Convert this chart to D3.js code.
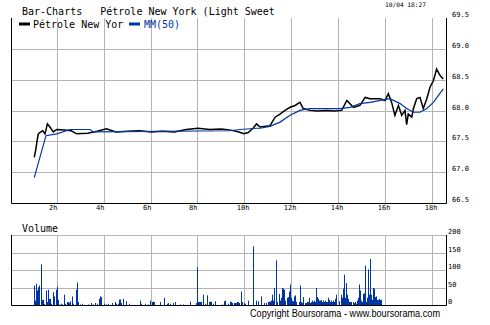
<!DOCTYPE html>
<html>
<head>
<meta charset="utf-8">
<script src="https://cdn.jsdelivr.net/npm/d3@7"></script>
<style>
  html, body { margin: 0; padding: 0; background: #fff; }
  svg { display: block; }
  .mono { font-family: 'DejaVu Sans Mono', monospace; }
</style>
</head>
<body>
<svg id="chart" width="490" height="325"></svg>
<script>
// Pétrole New York intraday chart (Boursorama style)

const hourTicks = [2, 4, 6, 8, 10, 12, 14, 16, 18];
const priceTicks = [66.5, 67.0, 67.5, 68.0, 68.5, 69.0, 69.5];
const volumeTicks = [0, 50, 100, 150, 200];

// [hour, price]
const price = [
    [1.02, 67.25], [1.08, 67.36], [1.13, 67.49], [1.19, 67.63], [1.30, 67.66], [1.38, 67.68],
    [1.48, 67.63], [1.58, 67.79], [1.69, 67.74], [1.83, 67.66], [1.98, 67.70], [2.30, 67.69],
    [2.60, 67.68], [2.83, 67.63], [3.30, 67.64], [3.70, 67.67], [4.10, 67.71], [4.50, 67.66],
    [5.00, 67.67], [5.50, 67.68], [6.00, 67.66], [6.50, 67.67], [7.00, 67.66], [7.50, 67.70],
    [8.00, 67.72], [8.50, 67.70], [9.00, 67.71], [9.40, 67.69], [9.75, 67.66], [9.95, 67.63],
    [10.15, 67.65], [10.35, 67.72], [10.50, 67.79], [10.65, 67.74], [11.07, 67.76], [11.29, 67.90],
    [11.50, 67.95], [11.71, 68.01], [11.93, 68.06], [12.14, 68.09], [12.35, 68.14], [12.49, 68.04],
    [12.78, 68.01], [13.10, 68.00], [13.49, 68.01], [13.80, 68.00], [14.13, 68.01], [14.35, 68.17],
    [14.63, 68.06], [14.91, 68.09], [15.13, 68.22], [15.34, 68.20], [15.77, 68.20], [15.98, 68.17],
    [16.12, 68.28], [16.26, 68.14], [16.40, 67.93], [16.55, 68.09], [16.69, 67.93], [16.83, 68.01],
    [16.90, 67.78], [16.97, 67.95], [17.12, 67.90], [17.19, 68.04], [17.33, 68.20], [17.47, 68.22],
    [17.61, 68.04], [17.76, 68.20], [17.90, 68.39], [18.04, 68.49], [18.18, 68.68], [18.32, 68.58],
    [18.46, 68.52]
];

// [hour, moving average 50]
const mm50 = [
    [1.02, 66.92], [1.52, 67.60], [1.98, 67.63], [2.55, 67.70], [3.40, 67.70], [3.54, 67.66],
    [9.37, 67.68], [9.79, 67.70], [10.51, 67.72], [10.65, 67.72], [11.07, 67.75], [11.50, 67.82],
    [11.93, 67.93], [12.35, 68.01], [12.78, 68.04], [14.06, 68.04], [14.49, 68.06], [14.91, 68.12],
    [15.34, 68.14], [16.19, 68.20], [16.62, 68.12], [16.90, 68.04], [17.19, 67.98], [17.47, 67.98],
    [17.76, 68.04], [18.04, 68.14], [18.46, 68.36]
];

// [hour, volume]
const volume = [
    [1.02, 57], [1.07, 14], [1.11, 62], [1.15, 43], [1.20, 52], [1.24, 57], [1.32, 117], [1.37, 16],
    [1.41, 16], [1.45, 5], [1.54, 43], [1.58, 10], [1.62, 45], [1.66, 19], [1.71, 19], [1.75, 5],
    [1.83, 38], [1.88, 26], [1.96, 45], [2.00, 54], [2.05, 16], [2.09, 3], [2.18, 5], [2.22, 3],
    [2.30, 31], [2.35, 5], [2.43, 10], [2.47, 10], [2.52, 7], [2.56, 12], [2.64, 26], [2.69, 5],
    [2.82, 45], [2.86, 66], [2.90, 10], [2.99, 3], [3.07, 5], [3.33, 3], [3.45, 7], [3.54, 3],
    [3.62, 7], [3.71, 5], [3.80, 19], [3.84, 26], [3.88, 24], [4.01, 5], [4.09, 3], [4.18, 5],
    [4.35, 7], [4.48, 10], [4.52, 5], [4.60, 5], [4.65, 17], [4.69, 17], [4.73, 7], [4.82, 19],
    [4.95, 12], [5.07, 5], [5.54, 14], [5.59, 5], [5.76, 5], [5.88, 3], [5.97, 14], [6.05, 10],
    [6.10, 11], [6.14, 10], [6.40, 10], [6.57, 22], [6.69, 5], [6.74, 7], [6.82, 5], [6.95, 7],
    [7.04, 10], [7.25, 3], [7.38, 3], [7.67, 11], [7.93, 7], [7.97, 109], [8.02, 10], [8.06, 10],
    [8.10, 10], [8.14, 10], [8.23, 31], [8.31, 5], [8.40, 29], [8.48, 10], [8.53, 11], [8.57, 11],
    [8.65, 5], [8.74, 12], [9.04, 3], [9.12, 12], [9.17, 14], [9.29, 5], [9.38, 11], [9.42, 10],
    [9.46, 7], [9.55, 7], [9.59, 7], [9.64, 7], [9.68, 10], [9.72, 10], [9.76, 7], [9.85, 40],
    [9.89, 10], [9.98, 7], [10.02, 5], [10.15, 14], [10.36, 169], [10.49, 14], [10.57, 12],
    [10.70, 26], [10.83, 7], [10.91, 7], [11.00, 10], [11.04, 11], [11.08, 11], [11.13, 14],
    [11.17, 31], [11.21, 14], [11.25, 50], [11.34, 129], [11.38, 10], [11.47, 33], [11.51, 14],
    [11.55, 22], [11.60, 50], [11.64, 48], [11.68, 45], [11.72, 14], [11.81, 22], [11.85, 24],
    [11.89, 40], [11.94, 60], [11.98, 22], [12.02, 14], [12.06, 12], [12.11, 26], [12.15, 29],
    [12.19, 10], [12.32, 10], [12.36, 57], [12.40, 10], [12.45, 7], [12.49, 24], [12.58, 7],
    [12.62, 7], [12.66, 10], [12.70, 10], [12.75, 22], [12.79, 7], [12.83, 10], [12.87, 14],
    [12.92, 10], [12.96, 14], [13.00, 10], [13.05, 50], [13.09, 24], [13.13, 19], [13.17, 14],
    [13.22, 14], [13.26, 16], [13.30, 10], [13.34, 14], [13.39, 10], [13.43, 14], [13.47, 10],
    [13.51, 10], [13.56, 22], [13.60, 16], [13.64, 10], [13.68, 14], [13.73, 10], [13.77, 14],
    [13.81, 10], [13.85, 19], [13.90, 31], [14.03, 12], [14.11, 31], [14.15, 22], [14.20, 48],
    [14.24, 88], [14.28, 22], [14.32, 64], [14.37, 31], [14.41, 19], [14.45, 10], [14.49, 10],
    [14.54, 10], [14.62, 10], [14.66, 7], [14.71, 10], [14.75, 5], [14.79, 14], [14.84, 22],
    [14.88, 60], [14.92, 43], [14.96, 14], [15.01, 10], [15.05, 33], [15.09, 35], [15.13, 114],
    [15.18, 10], [15.22, 22], [15.26, 103], [15.30, 31], [15.35, 133], [15.39, 31], [15.43, 16],
    [15.47, 50], [15.52, 48], [15.56, 24], [15.60, 26], [15.64, 16], [15.69, 16], [15.73, 19],
    [15.77, 16], [15.82, 16]
];

const svg = d3.select('#chart');
const gridColor = '#b4b4b4';
const blue = '#0036a3';

// Scales
const x = d3.scaleLinear().domain([0.05, 18.6]).range([11.5, 446.5]);
const yPrice = d3.scaleLinear().domain([66.5, 69.5]).range([203.5, 18.5]);
const yVol = d3.scaleLinear().domain([0, 200]).range([305.5, 235.5]);

const crisp = v => Math.round(v - 0.5) + 0.5;

// Title row
svg.append('text').attr('class', 'mono')
    .attr('x', 22).attr('y', 15)
    .attr('font-size', '10px').attr('xml:space', 'preserve')
    .style('white-space', 'pre')
    .text('Bar-Charts   Pétrole New York (Light Sweet');

svg.append('text').attr('class', 'mono')
    .attr('x', 385).attr('y', 6.5)
    .attr('font-size', '6.2px')
    .text('10/04 18:27');

// ---------- price panel ----------
const main = svg.append('g');

main.selectAll('.vgrid')
    .data(hourTicks)
    .join('line')
    .attr('x1', d => crisp(x(d))).attr('x2', d => crisp(x(d)))
    .attr('y1', 18).attr('y2', 203)
    .attr('stroke', gridColor).attr('stroke-width', 1);

main.selectAll('.hgrid')
    .data(priceTicks.filter(d => d > 66.5 && d < 69.5))
    .join('line')
    .attr('x1', 11).attr('x2', 447)
    .attr('y1', d => crisp(yPrice(d))).attr('y2', d => crisp(yPrice(d)))
    .attr('stroke', gridColor).attr('stroke-width', 1);

// frame
main.append('path')
    .attr('d', `M11.5,18V203.5H446.5V18`)
    .attr('fill', 'none').attr('stroke', '#000').attr('stroke-width', 1);

// price labels (right)
main.selectAll('.plabel')
    .data(priceTicks)
    .join('text')
    .attr('class', 'mono')
    .attr('x', 452)
    .attr('y', d => crisp(yPrice(d)) - 1.5)
    .attr('font-size', '7px')
    .text(d => d.toFixed(1));

// hour labels
main.selectAll('.hlabel')
    .data(hourTicks)
    .join('text')
    .attr('class', 'mono')
    .attr('x', d => crisp(x(d)) - (d < 10 ? 4.3 : 1.3))
    .attr('y', 210)
    .attr('text-anchor', 'middle')
    .attr('font-size', '7px')
    .text(d => d + 'h');

const line = yScale => d3.line()
    .x(d => x(d[0]))
    .y(d => yScale(d[1]));

main.append('path')
    .datum(price)
    .attr('d', line(yPrice))
    .attr('fill', 'none')
    .attr('stroke', '#000')
    .attr('stroke-width', 1.5);

main.append('path')
    .datum(mm50)
    .attr('d', line(yPrice))
    .attr('fill', 'none')
    .attr('stroke', blue)
    .attr('stroke-width', 1.2);

// legend
main.append('rect').attr('x', 19).attr('y', 22.5).attr('width', 11).attr('height', 3).attr('fill', '#000');
main.append('text').attr('class', 'mono')
    .attr('x', 33).attr('y', 28).attr('font-size', '10px')
    .text('Pétrole New Yor');
main.append('rect').attr('x', 129).attr('y', 22.5).attr('width', 11).attr('height', 3).attr('fill', blue);
main.append('text').attr('class', 'mono')
    .attr('x', 144).attr('y', 28).attr('font-size', '10px')
    .attr('fill', blue)
    .text('MM(50)');

// ---------- volume panel ----------
const vol = svg.append('g');

svg.append('text').attr('class', 'mono')
    .attr('x', 22).attr('y', 231.5).attr('font-size', '10px')
    .text('Volume');

vol.selectAll('.vgrid')
    .data(hourTicks)
    .join('line')
    .attr('x1', d => crisp(x(d))).attr('x2', d => crisp(x(d)))
    .attr('y1', 235).attr('y2', 305)
    .attr('stroke', gridColor);

vol.selectAll('.hgrid')
    .data(volumeTicks.filter(d => d > 0))
    .join('line')
    .attr('x1', 11).attr('x2', 447)
    .attr('y1', d => crisp(yVol(d))).attr('y2', d => crisp(yVol(d)))
    .attr('stroke', gridColor);

vol.selectAll('.bar')
    .data(volume)
    .join('rect')
    .attr('x', d => Math.round(x(d[0])))
    .attr('width', 1)
    .attr('y', d => yVol(d[1]))
    .attr('height', d => yVol(0) - yVol(d[1]))
    .attr('fill', blue);

vol.append('path')
    .attr('d', `M11.5,235V305.5H446.5V235`)
    .attr('fill', 'none').attr('stroke', '#000').attr('stroke-width', 1);

vol.selectAll('.vlabel')
    .data(volumeTicks)
    .join('text')
    .attr('class', 'mono')
    .attr('x', 448)
    .attr('y', d => crisp(yVol(d)) - 1.5)
    .attr('font-size', '7px')
    .text(d => d);

// copyright
svg.append('text')
    .attr('x', 250).attr('y', 316.5)
    .attr('font-family', "'Liberation Sans', Arial, sans-serif")
    .attr('font-size', '10px')
    .attr('textLength', 190)
    .attr('lengthAdjust', 'spacingAndGlyphs')
    .text('Copyright Boursorama - www.boursorama.com');
</script>
</body>
</html>
